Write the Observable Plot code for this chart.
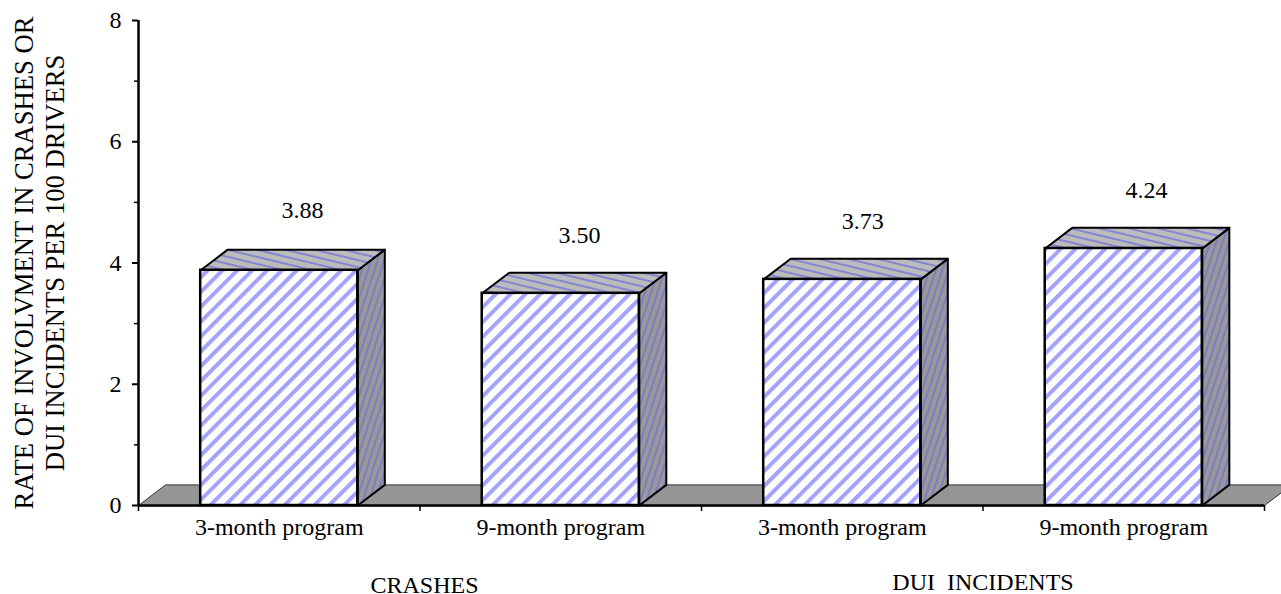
<!DOCTYPE html>
<html><head><meta charset="utf-8">
<script src="https://cdn.jsdelivr.net/npm/d3@7"></script>
<script src="https://cdn.jsdelivr.net/npm/@observablehq/plot@0.6"></script>
<style>html,body{margin:0;padding:0;background:#fff}svg{display:block}</style>
</head><body><div id="chart"></div>
<script>
const categories = ["3-month program","9-month program","3-month program","9-month program"];
const values = [3.88,3.50,3.73,4.24];
const valueLabels = ["3.88","3.50","3.73","4.24"];
const groups = ["CRASHES","DUI  INCIDENTS"];
const yTicks = [0,2,4,6,8];
const yMinorTicks = [1,3,5,7];
const yTitle = ["RATE OF INVOLVMENT IN CRASHES OR","DUI INCIDENTS PER 100 DRIVERS"];

// Layout, in scale units
const halfBar = 0.279, depthX = 0.096, depthY = 0.34;
const labelShiftX = [0.083,0.067,0.073,0.081];
const labelShiftY = [0.986,0.954,0.955,0.956];
const ink = "#000", font = "Liberation Serif";
const idx = d3.range(values.length);

const faces = (fn) => idx.flatMap(i => fn(i).map(([x,y])=>({x,y,z:i})));
const front = idx.map(i=>({x1:i+.5-halfBar,x2:i+.5+halfBar,y:values[i]}));
const top_ = faces(i=>{const l=i+.5-halfBar,r=i+.5+halfBar,v=values[i];
  return [[l,v],[r,v],[r+depthX,v+depthY],[l+depthX,v+depthY]];});
const side = faces(i=>{const r=i+.5+halfBar,v=values[i];
  return [[r,0],[r+depthX,depthY],[r+depthX,v+depthY],[r,v]];});
const floor = [[0,0],[depthX,depthY],[4+depthX,depthY],[4,0]].map(([x,y])=>({x,y}));

const txt = {fontFamily:font,fontSize:24,fill:ink};
const plot = Plot.plot({
  width:1281,height:594,marginTop:20,marginBottom:89,marginLeft:138,marginRight:17,
  style:{background:"#fff",overflow:"hidden"},
  x:{domain:[0,4],axis:null},
  y:{domain:[0,8],axis:null},
  marks:[
    Plot.line(floor,{x:"x",y:"y",curve:"linear-closed",fill:"#969696",stroke:"#333",strokeWidth:1}),
    Plot.line(side,{x:"x",y:"y",z:"z",curve:"linear-closed",fill:"url(#pSide)",stroke:ink,strokeWidth:2}),
    Plot.line(top_,{x:"x",y:"y",z:"z",curve:"linear-closed",fill:"url(#pTop)",stroke:ink,strokeWidth:2}),
    Plot.rect(front,{x1:"x1",x2:"x2",y1:0,y2:"y",fill:"url(#pFront)",stroke:ink,strokeWidth:2.5}),
    Plot.ruleX([0],{stroke:ink,strokeWidth:2.5}),
    Plot.ruleY([0],{stroke:ink,strokeWidth:2.5}),
    Plot.axisY({ticks:yTicks,tickSize:6,tickPadding:11,strokeWidth:2,fontFamily:font,fontSize:24,fill:ink,stroke:ink,label:null,anchor:"left"}),
    Plot.axisY({ticks:yMinorTicks,tickSize:4,strokeWidth:1.5,stroke:ink,text:null,label:null,anchor:"left"}),
    Plot.axisX({ticks:[0,1,2,3,4],tickSize:6,strokeWidth:1.5,stroke:ink,text:null,label:null,anchor:"bottom"}),
    Plot.text(categories,{x:(d,i)=>i+.5,y:0,text:d=>d,dy:22,...txt}),
    Plot.text(valueLabels,{x:(d,i)=>i+.5+labelShiftX[i],y:(d,i)=>values[i]+labelShiftY[i],text:d=>d,...txt}),
    Plot.text([groups[0]],{x:1.016,y:0,dy:80,text:d=>d,...txt}),
    Plot.text([groups[1]],{x:3.0,y:0,dy:77,text:d=>d,...txt}),
    Plot.text([yTitle[0]],{y:4,frameAnchor:"left",textAnchor:"middle",dx:-114.5,rotate:-90,text:d=>d,...txt,fontSize:26.6}),
    Plot.text([yTitle[1]],{y:4,frameAnchor:"left",textAnchor:"middle",dx:-83.5,rotate:-90,text:d=>d,...txt,fontSize:26.6})
  ]
});
// Hatch fills
const defs = d3.select(plot).insert("defs",":first-child");
function hatch(id,bg,fg,w,sw,tf){
  const p = defs.append("pattern").attr("id",id).attr("patternUnits","userSpaceOnUse")
    .attr("width",w).attr("height",w).attr("patternTransform",tf);
  p.append("rect").attr("width",w).attr("height",w).attr("fill",bg);
  p.append("rect").attr("width",sw).attr("height",w).attr("fill",fg);
}
hatch("pFront","#fff","#a3a3fb",10.5,4,"rotate(45)");
hatch("pTop","#bcbcbc","#8585d2",6.8,2,"rotate(-76.5)");
hatch("pSide","#999999","#7d7dc4",6,2,"rotate(18)");
document.getElementById("chart").append(plot);
</script></body></html>
